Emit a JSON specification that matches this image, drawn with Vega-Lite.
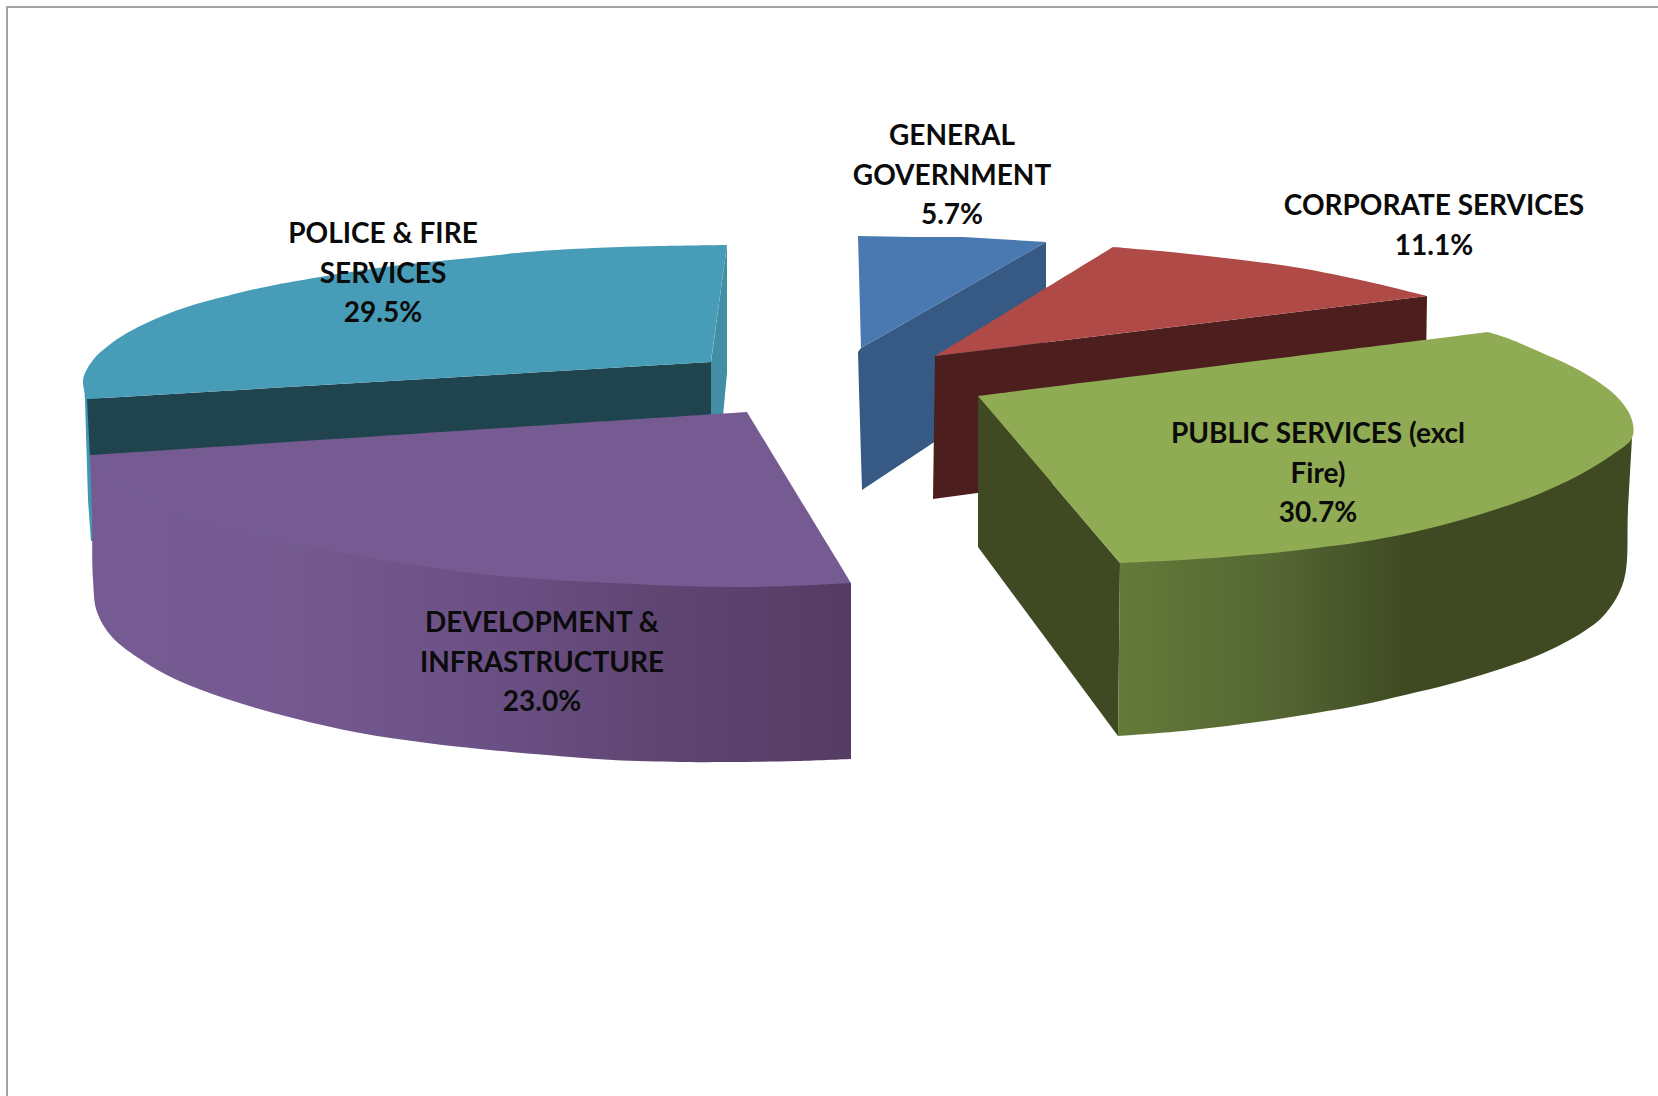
{
  "$schema": "https://vega.github.io/schema/vega-lite/v6.json",
  "autosize": "none",
  "width": 1658,
  "height": 1096,
  "padding": 0,
  "background": "white",
  "view": {"stroke": null},
  "datasets": {
    "frame": [
      {"n": 0, "x": 7, "y": 1096},
      {"n": 1, "x": 7, "y": 7},
      {"n": 2, "x": 1658, "y": 7}
    ],
    "flatFaces": [
      {"face": "police rim", "n": 0, "x": 84, "y": 385},
      {"face": "police rim", "n": 1, "x": 85, "y": 400},
      {"face": "police rim", "n": 2, "x": 88, "y": 500},
      {"face": "police rim", "n": 3, "x": 91, "y": 541},
      {"face": "police rim", "n": 4, "x": 110, "y": 541},
      {"face": "police rim", "n": 5, "x": 110, "y": 400},

      {"face": "police cut back", "n": 0, "x": 727, "y": 245},
      {"face": "police cut back", "n": 1, "x": 711, "y": 362},
      {"face": "police cut back", "n": 2, "x": 711, "y": 416},
      {"face": "police cut back", "n": 3, "x": 723, "y": 416},
      {"face": "police cut back", "n": 4, "x": 727, "y": 373},

      {"face": "police cut", "n": 0, "x": 87, "y": 399},
      {"face": "police cut", "n": 1, "x": 711, "y": 362},
      {"face": "police cut", "n": 2, "x": 711, "y": 416},
      {"face": "police cut", "n": 3, "x": 90, "y": 458},

      {"face": "general cut", "n": 0, "x": 861, "y": 348},
      {"face": "general cut", "n": 1, "x": 1046, "y": 242},
      {"face": "general cut", "n": 2, "x": 1046, "y": 368},
      {"face": "general cut", "n": 3, "x": 862, "y": 490},
      {"face": "general cut", "n": 4, "x": 859, "y": 390},
      {"face": "general cut", "n": 5, "x": 858, "y": 352},

      {"face": "general top", "n": 0, "x": 858, "y": 236},
      {"face": "general top", "n": 1, "x": 913, "y": 237},
      {"face": "general top", "n": 2, "x": 963, "y": 237},
      {"face": "general top", "n": 3, "x": 1046, "y": 242},
      {"face": "general top", "n": 4, "x": 861, "y": 348},

      {"face": "corporate cut", "n": 0, "x": 935, "y": 356},
      {"face": "corporate cut", "n": 1, "x": 1427, "y": 296},
      {"face": "corporate cut", "n": 2, "x": 1425, "y": 433},
      {"face": "corporate cut", "n": 3, "x": 933, "y": 499},

      {"face": "public cut", "n": 0, "x": 978, "y": 396},
      {"face": "public cut", "n": 1, "x": 1120, "y": 563},
      {"face": "public cut", "n": 2, "x": 1118, "y": 736},
      {"face": "public cut", "n": 3, "x": 978, "y": 547}
    ],
    "publicWall": [
      {"n": 0, "x": 1120, "y": 563},
      {"n": 1, "x": 1120, "y": 563},
      {"n": 2, "x": 1632, "y": 438},
      {"n": 3, "x": 1632, "y": 438},
      {"n": 4, "x": 1628, "y": 510},
      {"n": 5, "x": 1624, "y": 580},
      {"n": 6, "x": 1606, "y": 613},
      {"n": 7, "x": 1583, "y": 632},
      {"n": 8, "x": 1539, "y": 655},
      {"n": 9, "x": 1494, "y": 671},
      {"n": 10, "x": 1450, "y": 684},
      {"n": 11, "x": 1405, "y": 695},
      {"n": 12, "x": 1361, "y": 705},
      {"n": 13, "x": 1316, "y": 713},
      {"n": 14, "x": 1272, "y": 720},
      {"n": 15, "x": 1227, "y": 726},
      {"n": 16, "x": 1183, "y": 731},
      {"n": 17, "x": 1118, "y": 736},
      {"n": 18, "x": 1118, "y": 736}
    ],
    "roundFaces": [
      {"face": "police top", "n": 0, "x": 87, "y": 399},
      {"face": "police top", "n": 1, "x": 87, "y": 399},
      {"face": "police top", "n": 2, "x": 83, "y": 380},
      {"face": "police top", "n": 3, "x": 93, "y": 360},
      {"face": "police top", "n": 4, "x": 108, "y": 346},
      {"face": "police top", "n": 5, "x": 127, "y": 333},
      {"face": "police top", "n": 6, "x": 160, "y": 317},
      {"face": "police top", "n": 7, "x": 193, "y": 305},
      {"face": "police top", "n": 8, "x": 227, "y": 296},
      {"face": "police top", "n": 9, "x": 260, "y": 288},
      {"face": "police top", "n": 10, "x": 320, "y": 277},
      {"face": "police top", "n": 11, "x": 393, "y": 266},
      {"face": "police top", "n": 12, "x": 480, "y": 257},
      {"face": "police top", "n": 13, "x": 527, "y": 252},
      {"face": "police top", "n": 14, "x": 593, "y": 248},
      {"face": "police top", "n": 15, "x": 660, "y": 246},
      {"face": "police top", "n": 16, "x": 727, "y": 245},
      {"face": "police top", "n": 17, "x": 727, "y": 245},
      {"face": "police top", "n": 18, "x": 711, "y": 362},
      {"face": "police top", "n": 19, "x": 711, "y": 362},

      {"face": "corporate top", "n": 0, "x": 935, "y": 356},
      {"face": "corporate top", "n": 1, "x": 935, "y": 356},
      {"face": "corporate top", "n": 2, "x": 1113, "y": 247},
      {"face": "corporate top", "n": 3, "x": 1113, "y": 247},
      {"face": "corporate top", "n": 4, "x": 1180, "y": 253},
      {"face": "corporate top", "n": 5, "x": 1250, "y": 261},
      {"face": "corporate top", "n": 6, "x": 1300, "y": 268},
      {"face": "corporate top", "n": 7, "x": 1365, "y": 281},
      {"face": "corporate top", "n": 8, "x": 1427, "y": 296},
      {"face": "corporate top", "n": 9, "x": 1427, "y": 296},

      {"face": "public top", "n": 0, "x": 978, "y": 396},
      {"face": "public top", "n": 1, "x": 978, "y": 396},
      {"face": "public top", "n": 2, "x": 1488, "y": 332},
      {"face": "public top", "n": 3, "x": 1488, "y": 332},
      {"face": "public top", "n": 4, "x": 1507, "y": 338},
      {"face": "public top", "n": 5, "x": 1540, "y": 352},
      {"face": "public top", "n": 6, "x": 1573, "y": 367},
      {"face": "public top", "n": 7, "x": 1600, "y": 383},
      {"face": "public top", "n": 8, "x": 1620, "y": 400},
      {"face": "public top", "n": 9, "x": 1632, "y": 420},
      {"face": "public top", "n": 10, "x": 1632, "y": 438},
      {"face": "public top", "n": 11, "x": 1612, "y": 455},
      {"face": "public top", "n": 12, "x": 1583, "y": 473},
      {"face": "public top", "n": 13, "x": 1539, "y": 494},
      {"face": "public top", "n": 14, "x": 1494, "y": 510},
      {"face": "public top", "n": 15, "x": 1450, "y": 523},
      {"face": "public top", "n": 16, "x": 1405, "y": 534},
      {"face": "public top", "n": 17, "x": 1361, "y": 542},
      {"face": "public top", "n": 18, "x": 1316, "y": 548},
      {"face": "public top", "n": 19, "x": 1272, "y": 553},
      {"face": "public top", "n": 20, "x": 1183, "y": 560},
      {"face": "public top", "n": 21, "x": 1120, "y": 563},
      {"face": "public top", "n": 22, "x": 1120, "y": 563}
    ],
    "developmentWall": [
      {"n": 0, "x": 90, "y": 455},
      {"n": 1, "x": 90, "y": 455},
      {"n": 2, "x": 92, "y": 513},
      {"n": 3, "x": 93, "y": 580},
      {"n": 4, "x": 97, "y": 612},
      {"n": 5, "x": 112, "y": 637},
      {"n": 6, "x": 143, "y": 661},
      {"n": 7, "x": 177, "y": 680},
      {"n": 8, "x": 227, "y": 699},
      {"n": 9, "x": 293, "y": 718},
      {"n": 10, "x": 360, "y": 733},
      {"n": 11, "x": 427, "y": 743},
      {"n": 12, "x": 480, "y": 749},
      {"n": 13, "x": 547, "y": 755},
      {"n": 14, "x": 613, "y": 760},
      {"n": 15, "x": 680, "y": 762},
      {"n": 16, "x": 730, "y": 762},
      {"n": 17, "x": 797, "y": 761},
      {"n": 18, "x": 851, "y": 759},
      {"n": 19, "x": 851, "y": 759},
      {"n": 20, "x": 851, "y": 583},
      {"n": 21, "x": 851, "y": 583},
      {"n": 22, "x": 500, "y": 500},
      {"n": 23, "x": 500, "y": 500}
    ],
    "developmentTop": [
      {"n": 0, "x": 90, "y": 455},
      {"n": 1, "x": 90, "y": 455},
      {"n": 2, "x": 747, "y": 412},
      {"n": 3, "x": 747, "y": 412},
      {"n": 4, "x": 851, "y": 583},
      {"n": 5, "x": 851, "y": 583},
      {"n": 6, "x": 813, "y": 585},
      {"n": 7, "x": 747, "y": 587},
      {"n": 8, "x": 680, "y": 586},
      {"n": 9, "x": 613, "y": 583},
      {"n": 10, "x": 540, "y": 579},
      {"n": 11, "x": 480, "y": 574},
      {"n": 12, "x": 427, "y": 567},
      {"n": 13, "x": 360, "y": 556},
      {"n": 14, "x": 293, "y": 543},
      {"n": 15, "x": 240, "y": 531},
      {"n": 16, "x": 170, "y": 509},
      {"n": 17, "x": 120, "y": 485},
      {"n": 18, "x": 90, "y": 455},
      {"n": 19, "x": 90, "y": 455}
    ],
    "labels": [
      {"category": "POLICE & FIRE SERVICES", "share": 29.5, "lines": ["POLICE & FIRE", "SERVICES", "29.5%"], "x": 383, "y": 235},
      {"category": "GENERAL GOVERNMENT", "share": 5.7, "lines": ["GENERAL", "GOVERNMENT", "5.7%"], "x": 952, "y": 137},
      {"category": "CORPORATE SERVICES", "share": 11.1, "lines": ["CORPORATE SERVICES", "11.1%"], "x": 1434, "y": 207},
      {"category": "PUBLIC SERVICES (excl Fire)", "share": 30.7, "lines": ["PUBLIC SERVICES (excl", "Fire)", "30.7%"], "x": 1318, "y": 435},
      {"category": "DEVELOPMENT & INFRASTRUCTURE", "share": 23.0, "lines": ["DEVELOPMENT &", "INFRASTRUCTURE", "23.0%"], "x": 542, "y": 624}
    ]
  },
  "encoding": {
    "x": {"field": "x", "type": "quantitative", "axis": null, "scale": {"domain": [0, 1658], "nice": false, "zero": false}},
    "y": {"field": "y", "type": "quantitative", "axis": null, "scale": {"domain": [0, 1096], "reverse": true, "nice": false, "zero": false}}
  },
  "layer": [
    {
      "data": {"name": "frame"},
      "mark": {"type": "line", "stroke": "#a3a3a3", "strokeWidth": 2},
      "encoding": {"order": {"field": "n", "type": "quantitative"}}
    },
    {
      "data": {"name": "flatFaces"},
      "mark": {"type": "line", "stroke": null, "interpolate": "linear"},
      "encoding": {
        "order": {"field": "n", "type": "quantitative"},
        "detail": {"field": "face"},
        "fill": {
          "field": "face",
          "type": "nominal",
          "legend": null,
          "scale": {
            "domain": ["police rim", "police cut back", "police cut", "general cut", "general top", "corporate cut", "public cut"],
            "range": ["#3f97b0", "#418ea5", "#1f444e", "#375a84", "#4a78b0", "#4c1e1e", "#3f4a22"]
          }
        }
      }
    },
    {
      "data": {"name": "publicWall"},
      "mark": {
        "type": "line",
        "stroke": null,
        "interpolate": "catmull-rom",
        "fill": {
          "gradient": "linear", "x1": 0, "y1": 0, "x2": 1, "y2": 0,
          "stops": [
            {"offset": 0, "color": "#647a39"},
            {"offset": 0.3, "color": "#556733"},
            {"offset": 0.56, "color": "#3f4a22"},
            {"offset": 1, "color": "#3f4a22"}
          ]
        }
      },
      "encoding": {"order": {"field": "n", "type": "quantitative"}}
    },
    {
      "data": {"name": "roundFaces"},
      "mark": {"type": "line", "stroke": null, "interpolate": "catmull-rom"},
      "encoding": {
        "order": {"field": "n", "type": "quantitative"},
        "detail": {"field": "face"},
        "fill": {
          "field": "face",
          "type": "nominal",
          "legend": null,
          "scale": {
            "domain": ["police top", "corporate top", "public top"],
            "range": ["#479db8", "#af4a47", "#8fab53"]
          }
        }
      }
    },
    {
      "data": {"name": "developmentWall"},
      "mark": {
        "type": "line",
        "stroke": null,
        "interpolate": "catmull-rom",
        "fill": {
          "gradient": "linear", "x1": 0, "y1": 0, "x2": 1, "y2": 0,
          "stops": [
            {"offset": 0, "color": "#765b93"},
            {"offset": 0.25, "color": "#755a91"},
            {"offset": 0.5, "color": "#6c5187"},
            {"offset": 0.75, "color": "#5f4572"},
            {"offset": 1, "color": "#553c64"}
          ]
        }
      },
      "encoding": {"order": {"field": "n", "type": "quantitative"}}
    },
    {
      "data": {"name": "developmentTop"},
      "mark": {"type": "line", "stroke": null, "interpolate": "catmull-rom", "fill": "#765b93"},
      "encoding": {"order": {"field": "n", "type": "quantitative"}}
    },
    {
      "data": {"name": "labels"},
      "mark": {
        "type": "text",
        "font": "Lato",
        "fontWeight": "bold",
        "fontSize": 28,
        "lineHeight": 39.5,
        "align": "center",
        "baseline": "middle",
        "color": "#0b0b0b"
      },
      "encoding": {"text": {"field": "lines"}}
    }
  ],
  "resolve": {"scale": {"fill": "independent"}}
}
